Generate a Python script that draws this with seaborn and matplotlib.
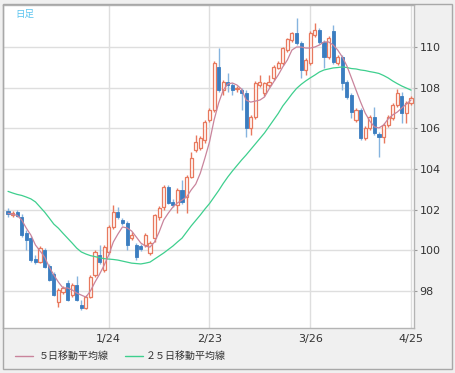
import numpy as np
import pandas as pd
import matplotlib
matplotlib.use("Agg")
import matplotlib.pyplot as plt
from matplotlib.patches import Rectangle
from matplotlib.lines import Line2D
import seaborn as sns

# ---- data (daily candles) ----
opens = [101.93, 101.74, 101.88, 101.64, 100.85, 100.60, 99.57, 99.42, 100.01, 99.23,
         98.83, 97.46, 97.95, 98.39, 97.80, 98.29, 97.31, 97.16, 97.70, 98.78,
         99.77, 99.03, 99.92, 101.15, 101.88, 101.49, 101.34, 100.60, 100.26, 100.21,
         100.26, 99.87, 100.60, 101.64, 102.13, 103.11, 102.38, 102.23, 102.97, 102.62,
         103.61, 104.93, 105.03, 105.43, 106.41, 106.90, 109.02, 107.88, 108.28, 108.13,
         107.93, 107.88, 107.74, 106.02, 106.56, 108.13, 107.74, 108.13, 108.48, 108.97,
         109.21, 109.85, 110.34, 110.69, 110.20, 108.87, 109.21, 110.59, 110.84, 110.25,
         109.51, 110.79, 109.21, 109.51, 108.28, 107.64, 106.41, 106.90, 105.52, 106.02,
         106.56, 105.72, 105.57, 106.16, 106.51, 107.15, 107.59, 106.75, 107.25]
highs = [102.08, 101.93, 101.98, 101.79, 101.00, 100.70, 99.77, 100.21, 100.11, 99.33,
         98.93, 98.15, 98.25, 98.54, 98.39, 98.74, 97.55, 97.80, 98.78, 100.01,
         100.26, 100.26, 101.25, 102.23, 102.13, 101.59, 101.44, 100.90, 100.36, 100.31,
         100.85, 100.46, 101.80, 102.20, 103.20, 103.20, 102.50, 103.05, 103.46, 103.70,
         104.83, 105.67, 105.60, 106.40, 107.00, 109.30, 109.95, 108.38, 108.72, 108.23,
         108.10, 107.98, 107.88, 106.66, 108.33, 108.62, 108.30, 108.62, 109.10, 109.30,
         110.00, 110.44, 110.75, 111.43, 110.30, 109.46, 110.79, 111.18, 110.93, 110.34,
         110.54, 111.08, 109.60, 109.60, 108.38, 107.74, 107.00, 107.00, 106.11, 106.66,
         107.05, 105.82, 106.26, 106.66, 107.25, 107.93, 107.79, 107.35, 107.59]
lows = [101.64, 101.64, 101.64, 100.65, 100.01, 99.42, 99.33, 99.37, 99.13, 98.49,
        97.75, 97.21, 97.85, 97.50, 97.70, 97.50, 97.06, 97.11, 97.65, 98.69,
        99.33, 98.93, 99.82, 101.05, 101.54, 101.25, 100.01, 100.51, 99.52, 99.97,
        100.16, 99.77, 100.40, 101.50, 102.00, 102.28, 102.15, 101.83, 102.30, 101.83,
        103.55, 104.83, 104.95, 105.30, 106.30, 106.80, 107.79, 107.64, 107.79, 107.64,
        107.80, 106.90, 105.57, 105.67, 106.46, 108.03, 107.60, 108.03, 108.40, 108.90,
        109.10, 109.75, 110.25, 110.10, 108.48, 108.62, 109.10, 110.49, 110.15, 108.97,
        109.41, 109.16, 109.10, 107.88, 107.44, 106.51, 106.31, 105.43, 105.43, 105.92,
        105.67, 104.59, 105.28, 106.06, 106.41, 107.05, 106.26, 106.26, 107.15]
closes = [101.79, 101.83, 101.69, 100.75, 100.51, 99.52, 99.42, 100.11, 99.18, 98.54,
          97.80, 98.05, 98.15, 97.55, 98.29, 97.55, 97.16, 97.70, 98.69, 99.92,
          99.42, 100.16, 101.15, 101.88, 101.64, 101.34, 100.26, 100.75, 99.67, 100.06,
          100.75, 100.36, 101.74, 102.08, 103.11, 102.33, 102.23, 102.97, 102.38, 103.61,
          104.54, 105.33, 105.52, 106.31, 106.90, 109.21, 107.88, 108.28, 108.13, 107.88,
          108.00, 107.74, 106.02, 106.56, 108.23, 108.28, 108.23, 108.28, 109.02, 109.21,
          109.95, 110.39, 110.69, 110.20, 108.87, 109.36, 110.69, 110.84, 110.25, 109.51,
          110.44, 109.26, 109.51, 108.23, 107.54, 106.80, 106.90, 105.52, 106.02, 106.56,
          105.77, 105.57, 106.16, 106.56, 107.15, 107.74, 106.75, 107.25, 107.49]
ma5 = [101.82, 101.77, 101.72, 101.49, 101.09, 100.75, 100.26, 99.97, 99.67, 99.18,
       98.79, 98.44, 98.15, 98.15, 98.05, 97.90, 97.80, 97.70, 98.00, 98.44,
       98.83, 99.27, 99.77, 100.41, 100.80, 101.15, 101.10, 100.95, 100.66, 100.36,
       100.21, 100.16, 100.41, 100.90, 101.49, 101.83, 102.13, 102.33, 102.47, 102.62,
       102.97, 103.26, 103.80, 104.54, 105.33, 106.41, 107.25, 107.88, 108.18, 108.23,
       108.13, 107.93, 107.39, 107.29, 107.34, 107.39, 107.54, 107.93, 108.28, 108.62,
       109.02, 109.36, 109.85, 110.00, 110.00, 109.95, 109.95, 110.00, 110.10, 110.25,
       110.25, 110.10, 109.85, 109.51, 109.07, 108.48, 107.88, 107.29, 106.75, 106.36,
       106.07, 106.02, 106.16, 106.46, 106.66, 106.80, 107.00, 107.20, 107.39]
ma25 = [102.90, 102.82, 102.75, 102.70, 102.62, 102.53, 102.38, 102.13, 101.88, 101.59,
        101.29, 101.09, 100.84, 100.60, 100.36, 100.11, 99.92, 99.82, 99.74, 99.69,
        99.64, 99.59, 99.57, 99.55, 99.52, 99.47, 99.42, 99.37, 99.35, 99.33,
        99.37, 99.42, 99.57, 99.72, 99.87, 100.04, 100.21, 100.41, 100.60, 100.90,
        101.20, 101.47, 101.74, 102.03, 102.30, 102.62, 102.94, 103.29, 103.61, 103.90,
        104.17, 104.44, 104.69, 104.96, 105.23, 105.50, 105.77, 106.09, 106.41, 106.73,
        107.10, 107.39, 107.69, 107.96, 108.16, 108.33, 108.48, 108.62, 108.77, 108.87,
        108.92, 108.97, 108.99, 109.02, 108.99, 108.94, 108.92, 108.87, 108.84, 108.79,
        108.75, 108.70, 108.60, 108.48, 108.33, 108.20, 108.08, 107.98, 107.88]
x_tick_index = [22, 44, 66, 88]
x_tick_labels = ["1/24", "2/23", "3/26", "4/25"]
y_ticks = [98, 100, 102, 104, 106, 108, 110]
legend_labels = ["５日移動平均線", "２５日移動平均線"]
title_text = "日足"

# ---- style ----
RED = "#e8795e"
BLUE_BODY = "#3b7dc0"
BLUE_WICK = "#86b4df"
MA5_C = "#c9849c"
MA25_C = "#3ecf8e"
BG = "#f0f0f0"
GRID = "#dedede"

sns.set_style("white")
plt.rcParams["font.family"] = ["DejaVu Sans"]

W, H = 456, 373
fig = plt.figure(figsize=(W / 100, H / 100), dpi=100, facecolor=BG)

L, R, T, B = 3, 414, 5, 328
ax = fig.add_axes([L / W, 1 - B / H, (R - L) / W, (B - T) / H])
ax.set_facecolor("white")

df = pd.DataFrame({"i": np.arange(len(opens)), "open": opens, "high": highs,
                   "low": lows, "close": closes, "ma5": ma5, "ma25": ma25})
up = df["close"] >= df["open"]

# wicks
ax.vlines(df.loc[up, "i"], df.loc[up, "low"], df.loc[up, "high"], color=RED, linewidth=1.0, zorder=2)
ax.vlines(df.loc[~up, "i"], df.loc[~up, "low"], df.loc[~up, "high"], color=BLUE_WICK, linewidth=1.0, zorder=2)

# bodies
bw = 0.68
body_lo = np.minimum(df["open"], df["close"])
body_h = np.maximum((df["close"] - df["open"]).abs(), 0.04)
ax.bar(df.loc[up, "i"], body_h[up], bottom=body_lo[up], width=bw,
       facecolor="#fffaf8", edgecolor=RED, linewidth=0.9, zorder=3)
ax.bar(df.loc[~up, "i"], body_h[~up], bottom=body_lo[~up], width=bw,
       facecolor=BLUE_BODY, edgecolor=BLUE_BODY, linewidth=0.6, zorder=3)

# moving averages
sns.lineplot(data=df, x="i", y="ma25", ax=ax, color=MA25_C, linewidth=0.9, zorder=4, legend=False)
sns.lineplot(data=df, x="i", y="ma5", ax=ax, color=MA5_C, linewidth=0.9, zorder=4, legend=False)

# axes scale
px_per_bar = 4.58
x0_px = 8
ax.set_xlim(-(x0_px - L) / px_per_bar, 88 + (R - 411) / px_per_bar)
ppu = 20.33
ax.set_ylim(98 - (B - 291) / ppu, 110 + (47 - T) / ppu)

ax.set_xticks(x_tick_index)
ax.set_xticklabels(x_tick_labels)
ax.set_yticks(y_ticks)
ax.set_yticklabels([str(v) for v in y_ticks])
ax.yaxis.tick_right()
ax.set_xlabel("")
ax.set_ylabel("")
ax.xaxis.get_offset_text().set_visible(False)
ax.yaxis.get_offset_text().set_visible(False)
ax.grid(True, color=GRID, linewidth=1.0, zorder=0)
ax.set_axisbelow(True)
ax.tick_params(axis="x", length=0, pad=4, labelsize=8, labelcolor="#333333")
ax.tick_params(axis="y", length=2.5, width=0.8, color="#999999", pad=1.5,
               labelsize=8, labelcolor="#333333")
for s in ax.spines.values():
    s.set_color("#b4b4b4")
    s.set_linewidth(1.0)
    s.set_visible(True)

# outer frame
fig.patches.append(Rectangle((3 / W, 1 - 369 / H), 449 / W, 365 / H, transform=fig.transFigure,
                             fill=False, edgecolor="#a8a8a8", linewidth=1.0))

# title label
fig.text(15 / W, 1 - 14 / H, title_text, fontsize=6.8, color="#59c3ef",
         family=["Noto Sans CJK JP", "DejaVu Sans"], va="center", ha="left")

# legend
ly = 1 - 356 / H
fig.add_artist(Line2D([15 / W, 33 / W], [ly, ly], color=MA5_C, linewidth=1.0, transform=fig.transFigure))
fig.text(39 / W, ly, legend_labels[0], fontsize=7.2, color="#333333",
         family=["Noto Sans CJK JP", "DejaVu Sans"], va="center", ha="left")
fig.add_artist(Line2D([125 / W, 143 / W], [ly, ly], color=MA25_C, linewidth=1.0, transform=fig.transFigure))
fig.text(146 / W, ly, legend_labels[1], fontsize=7.2, color="#333333",
         family=["Noto Sans CJK JP", "DejaVu Sans"], va="center", ha="left")

fig.savefig("out.png", dpi=100, facecolor=BG)
